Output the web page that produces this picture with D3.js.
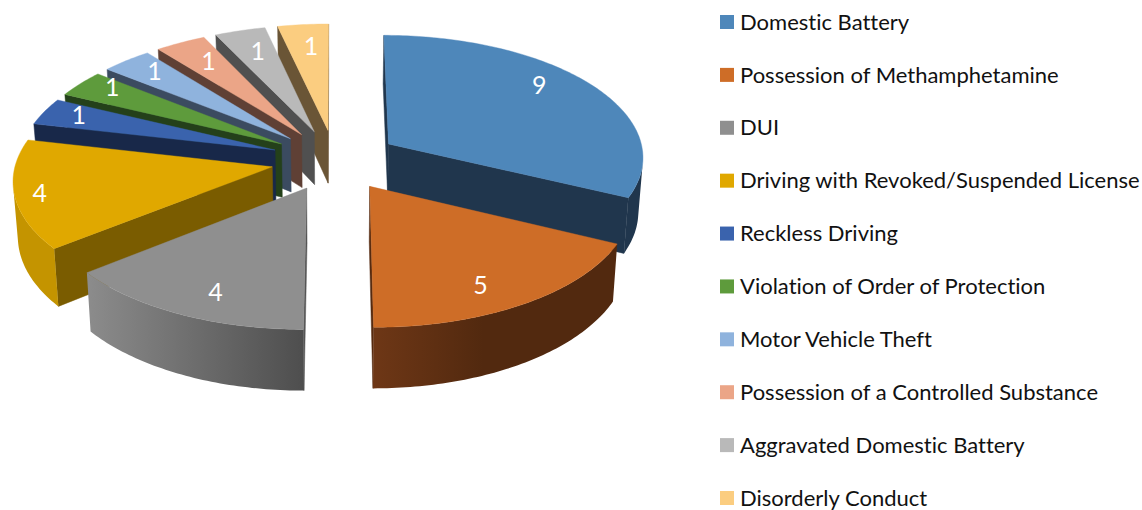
<!DOCTYPE html>
<html><head><meta charset="utf-8">
<style>html,body{margin:0;padding:0;background:#fff;overflow:hidden}svg{display:block}text{font-variant-ligatures:none}</style>
<script src="https://cdn.jsdelivr.net/npm/d3@7/dist/d3.min.js"></script>
</head><body><svg id="c" width="1142" height="510"></svg>
<script>
const categories=["Domestic Battery","Possession of Methamphetamine","DUI","Driving with Revoked/Suspended License","Reckless Driving","Violation of Order of Protection","Motor Vehicle Theft","Possession of a Controlled Substance","Aggravated Domestic Battery","Disorderly Conduct"];
const values=[9,5,4,4,1,1,1,1,1,1];
const topColors=["#4E87BA","#CE6D27","#8F8F8F","#E0A800","#3A63AD","#5E9B3C","#8FB3DD","#EBA587","#B9B9B9","#FBCD80"];
const faceColors=["#20364D","#562B10","#555555","#7A5C00","#182849","#24401A","#3B4B60","#5F4035","#505050","#6A5536"];
const rimStart=["#20364D","#52290F","#4E4E4E","#C49400","#1C2E54","#2A4A1E","#3F5168","#66463A","#555555","#6F5A3A"];
const rimEnd=["#20364D","#6E3716","#8C8C8C","#C49400","#1C2E54","#2A4A1E","#3F5168","#66463A","#555555","#6F5A3A"];
const labelRadius=[0.82,0.82,0.818,0.905,0.855,0.87,0.837,0.78,0.775,0.775];
const labelFraction=[0.44,0.565,0.44,0.49,0.59,0.73,0.58,0.58,0.55,0.57];

const cx=335,cy=160,Rx=256,Ry=122,k=0.096,explode=0.25,depth=54,shrink=0.015;
const sx=d3.scaleLinear().domain([0,1]).range([cx,cx+Rx]);
const sz=d3.scaleLinear().domain([0,1]).range([cy,cy+Ry]);
const svg=d3.select("#c");
const defs=svg.append("defs");
const arcs=d3.pie().value(d=>d).sort(null).startAngle(0).endAngle(2*Math.PI)(values);

function proj(X,Z,low){
  const s=1/(1-k*Z);
  const x=sx(X*s),y=sz(Z*s);
  return low?[cx+(x-cx)*(1-shrink),y+depth*s]:[x,y];
}
function pt(d,r,a,low){
  const m=(d.startAngle+d.endAngle)/2;
  return proj(explode*Math.sin(m)+r*Math.sin(a),-explode*Math.cos(m)-r*Math.cos(a),low);
}
const area=p=>d3.polygonArea(p);
const line=d3.line().curve(d3.curveLinearClosed);

const order=arcs.map(d=>d).sort((a,b)=>-Math.cos((a.startAngle+a.endAngle)/2)+Math.cos((b.startAngle+b.endAngle)/2));
const g=svg.append("g");
order.forEach(d=>{
  const i=d.index,sl=g.append("g");
  const faces=[
    [pt(d,0,0),pt(d,1,d.startAngle),pt(d,1,d.startAngle,true),pt(d,0,0,true)],
    [pt(d,1,d.endAngle),pt(d,0,0),pt(d,0,0,true),pt(d,1,d.endAngle,true)]
  ];
  faces.forEach(f=>{ if(area(f)>0) sl.append("path").attr("d",line(f)).attr("fill",faceColors[i]).attr("stroke",faceColors[i]).attr("stroke-width",0.5); });
  const n=Math.ceil((d.endAngle-d.startAngle)*60);
  const steps=d3.range(n+1).map(j=>d.startAngle+(d.endAngle-d.startAngle)*j/n);
  const vis=d3.pairs(steps).filter(([a,b])=>area([pt(d,1,a),pt(d,1,b),pt(d,1,b,true),pt(d,1,a,true)])>0);
  if(vis.length){
    const as=[vis[0][0]].concat(vis.map(v=>v[1]));
    const poly=as.map(a=>pt(d,1,a)).concat(as.slice().reverse().map(a=>pt(d,1,a,true)));
    const id="rim"+i,p0=pt(d,1,as[0]),p1=pt(d,1,as[as.length-1]);
    const gr=defs.append("linearGradient").attr("id",id).attr("gradientUnits","userSpaceOnUse")
      .attr("x1",p0[0]).attr("y1",0).attr("x2",p1[0]).attr("y2",0);
    gr.append("stop").attr("offset",i===1?0.55:0).attr("stop-color",rimStart[i]);
    gr.append("stop").attr("offset",1).attr("stop-color",rimEnd[i]);
    sl.append("path").attr("d",line(poly)).attr("fill",`url(#${id})`);
  }
  const poly=[pt(d,0,0)].concat(steps.map(a=>pt(d,1,a)));
  sl.append("path").attr("d",line(poly)).attr("fill",topColors[i]).attr("stroke",topColors[i]).attr("stroke-width",0.4);
});
arcs.forEach(d=>{
  const a=d.startAngle+(d.endAngle-d.startAngle)*labelFraction[d.index],p=pt(d,labelRadius[d.index],a);
  svg.append("text").attr("x",p[0]).attr("y",p[1]).attr("dy","0.35em").attr("text-anchor","middle")
    .attr("fill","#fff").attr("font-family","Lato").attr("font-size",25).text(values[d.index]);
});
const ly=d3.scalePoint().domain(categories).range([22,498]);
const leg=svg.append("g").selectAll("g").data(categories).join("g").attr("transform",d=>`translate(720,${ly(d)})`);
leg.append("rect").attr("x",0).attr("y",-7).attr("width",14).attr("height",14).attr("fill",(d,i)=>topColors[i]);
leg.append("text").attr("x",20).attr("dy","0.35em").attr("fill","#111").attr("font-family","Lato").attr("font-size",22).text(d=>d);
</script></body></html>
